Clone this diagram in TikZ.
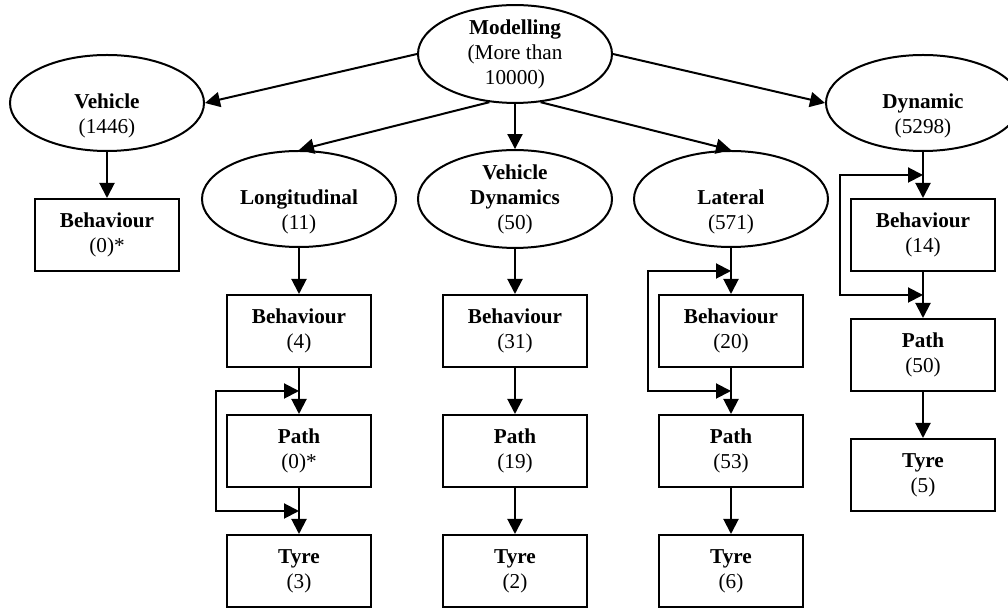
\documentclass[tikz,border=0pt]{standalone}
\usepackage{fontspec}
\setmainfont{Liberation Serif}
\usetikzlibrary{arrows.meta,shapes.geometric}
\begin{document}
\begin{tikzpicture}[x=0.5pt,y=-0.5pt,line width=1pt,font=\fontsize{10.6}{12.5}\selectfont]

% Style for nodes
\tikzstyle{oval}=[ellipse,draw,inner sep=0,minimum width=97pt,minimum height=48pt,align=center]
\tikzstyle{box}=[rectangle,draw,inner sep=0,minimum width=72pt,minimum height=36pt,align=center]
\tikzstyle{lift}=[align=center,yshift=-6.25pt]
% Style for arrows
\tikzstyle{arr}=[-{Triangle[length=7.5pt,width=7.5pt]}]
\tikzstyle{twin}=[{Triangle[length=7.5pt,width=7.5pt]}-{Triangle[length=7.5pt,width=7.5pt]}]
\useasboundingbox (0,0) rectangle (1008,608);
% Top level
\node(mod)[oval] at (515,54){\textbf{Modelling}\\(More than\\10000)};
\node(veh)[oval,label={[lift]center:{\textbf{Vehicle}\\(1446)}}] at (107,103){};
\node(dyn)[oval,label={[lift]center:{\textbf{Dynamic}\\(5298)}}] at (923,103){};
\node(lon)[oval,label={[lift]center:{\textbf{Longitudinal}\\(11)}}] at (299,199){};
\node(vdy)[oval] at (515,199){\textbf{Vehicle}\\\textbf{Dynamics}\\(50)};
\node(lat)[oval,label={[lift]center:{\textbf{Lateral}\\(571)}}] at (731,199){};
% The boxes
\node(vbeh)[box] at (107,235){\textbf{Behaviour}\\(0)*};
\node(lbeh)[box] at (299,331){\textbf{Behaviour}\\(4)};
\node(lpat)[box] at (299,451){\textbf{Path}\\(0)*};
\node(ltyr)[box] at (299,571){\textbf{Tyre}\\(3)};
\node(vbe2)[box] at (515,331){\textbf{Behaviour}\\(31)};
\node(vpat)[box] at (515,451){\textbf{Path}\\(19)};
\node(vtyr)[box] at (515,571){\textbf{Tyre}\\(2)};
\node(tbeh)[box] at (731,331){\textbf{Behaviour}\\(20)};
\node(tpat)[box] at (731,451){\textbf{Path}\\(53)};
\node(ttyr)[box] at (731,571){\textbf{Tyre}\\(6)};
\node(dbeh)[box] at (923,235){\textbf{Behaviour}\\(14)};
\node(dpat)[box] at (923,355){\textbf{Path}\\(50)};
\node(dtyr)[box] at (923,475){\textbf{Tyre}\\(5)};
% The arrows
\draw[arr] (mod.west)--(veh.east);
\draw[arr] (mod.242)--(lon.north);
\draw[arr] (mod.south)--(vdy.north);
\draw[arr] (mod.298)--(lat.north);
\draw[arr] (mod.east)--(dyn.west);
\draw[arr] (veh)--(vbeh);
\draw[arr] (lon)--(lbeh);
\draw[arr] (lbeh)--(lpat);
\draw[arr] (lpat)--(ltyr);
\draw[arr] (vdy)--(vbe2);
\draw[arr] (vbe2)--(vpat);
\draw[arr] (vpat)--(vtyr);
\draw[arr] (lat)--(tbeh);
\draw[arr] (tbeh)--(tpat);
\draw[arr] (tpat)--(ttyr);
\draw[arr] (dyn)--(dbeh);
\draw[arr] (dbeh)--(dpat);
\draw[arr] (dpat)--(dtyr);
% Loops
\coordinate(lA) at (299,391);\coordinate(lB) at (299,511);
\coordinate(tA) at (731,271);\coordinate(tB) at (731,391);
\coordinate(dA) at (923,175);\coordinate(dB) at (923,295);
\draw[twin] (lA)--++(-83,0)|-(lB);
\draw[twin] (tA)--++(-83,0)|-(tB);
\draw[twin] (dA)--++(-83,0)|-(dB);
\end{tikzpicture}
\end{document}
